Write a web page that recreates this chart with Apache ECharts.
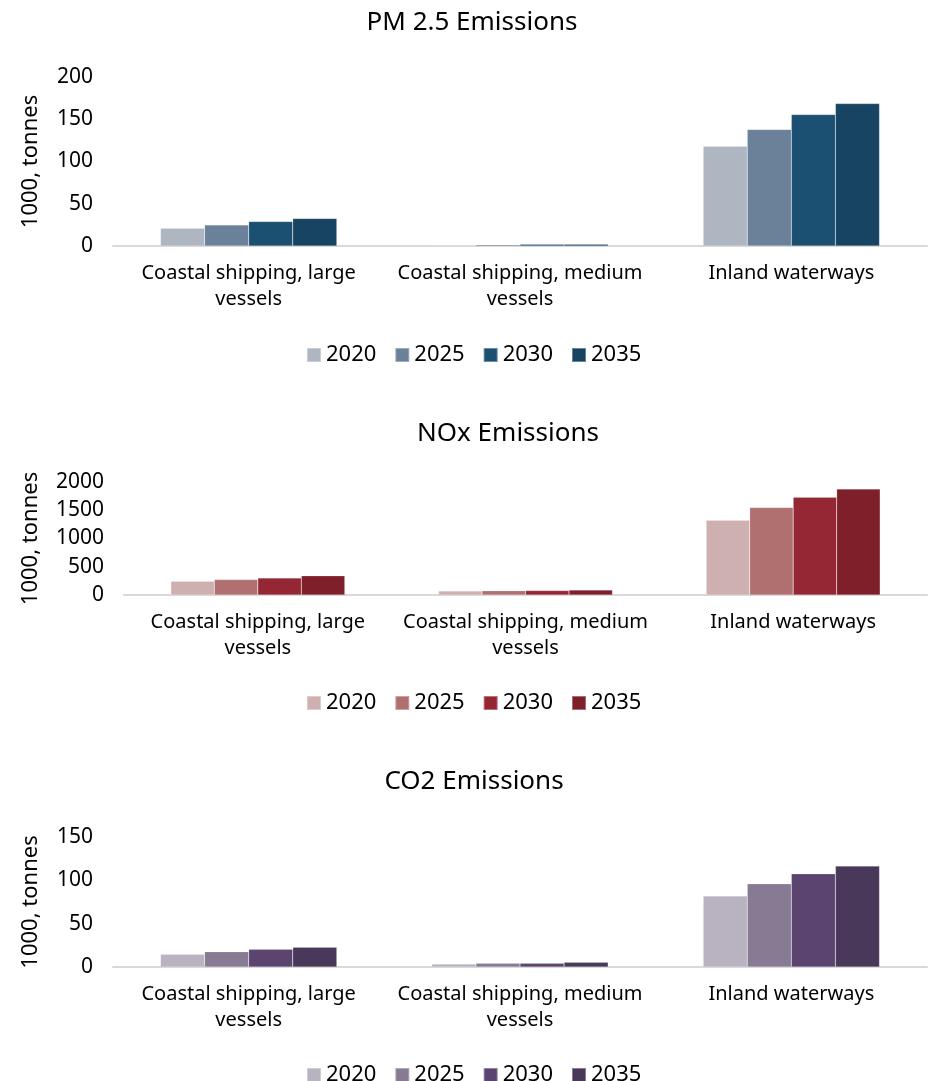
<!DOCTYPE html>
<html><head><meta charset="utf-8">
<script src="https://cdn.jsdelivr.net/npm/echarts@6/dist/echarts.min.js"></script>
<style>html,body{margin:0;padding:0;background:#fff}#c{width:928px;height:1081px}</style>
</head><body><div id="c"></div>
<script>
const categories = ['Coastal shipping, large vessels', 'Coastal shipping, medium vessels', 'Inland waterways'];
const years = ['2020', '2025', '2030', '2035'];
const titles = ['PM 2.5 Emissions', 'NOx Emissions', 'CO2 Emissions'];
const yAxisName = '1000, tonnes';
// values per year: [large, medium, inland]
const pm25 = {
  '2020': [21, 1, 118],
  '2025': [25, 1.5, 138],
  '2030': [29, 2, 155.5],
  '2035': [32.5, 2, 168.5]
};
const nox = {
  '2020': [245, 71, 1321],
  '2025': [273, 77, 1548],
  '2030': [303, 78, 1732],
  '2035': [339, 89, 1875]
};
const co2 = {
  '2020': [14.6, 3.5, 82],
  '2025': [17.7, 4.2, 96],
  '2030': [20.4, 4.2, 107.5],
  '2035': [22.7, 5.4, 116.5]
};
const pmColors = ['#aeb6c2', '#6b8199', '#1c5073', '#174462'];
const noxColors = ['#cfb0b1', '#b07070', '#952633', '#7e1f2a'];
const co2Colors = ['#b9b3c1', '#877a93', '#5b4470', '#4a385b'];
const yMax = [200, 2000, 150];
const yInterval = [50, 500, 50];

const FONT = 'Noto Sans';
const panels = [
  {data: pm25, colors: pmColors, titleTop: 5, titleX: 467, gridTop: 77, gridH: 169, left: 113, legendTop: 339},
  {data: nox, colors: noxColors, titleTop: 416, titleX: 503, gridTop: 482, gridH: 113, left: 124, legendTop: 687},
  {data: co2, colors: co2Colors, titleTop: 764, titleX: 469, gridTop: 837, gridH: 130, left: 113, legendTop: 1059}
];

const option = {
  animation: false,
  textStyle: {fontFamily: FONT, color: '#000'},
  title: [], legend: [], grid: [], xAxis: [], yAxis: [], series: []
};
panels.forEach((p, i) => {
  option.title.push({text: titles[i], left: p.titleX, textAlign: 'center', top: p.titleTop,
    textStyle: {fontFamily: FONT, fontSize: 26, fontWeight: 'normal', color: '#000'}});
  option.grid.push({left: p.left, right: 1, top: p.gridTop, height: p.gridH});
  option.xAxis.push({type: 'category', gridIndex: i, data: categories,
    axisLine: {lineStyle: {color: '#d9d9d9', width: 2}}, axisTick: {show: false},
    axisLabel: {fontFamily: FONT, fontSize: 20, color: '#000', lineHeight: 26, margin: 14, interval: 0,
      formatter: v => v.replace(/ (vessels)$/, '\n$1')}});
  option.yAxis.push({type: 'value', gridIndex: i, min: 0, max: yMax[i], interval: yInterval[i],
    name: yAxisName, nameLocation: 'middle', nameRotate: 90,
    nameGap: p.left - 42,
    nameTextStyle: {fontFamily: FONT, fontSize: 22, color: '#000'},
    splitLine: {show: false}, axisLine: {show: false}, axisTick: {show: false},
    axisLabel: {fontFamily: FONT, fontSize: 21, color: '#000', margin: 20, formatter: v => String(v)}});
  option.legend.push({top: p.legendTop, left: 301, itemWidth: 14, itemHeight: 14, itemGap: 18,
    icon: 'rect', textStyle: {fontFamily: FONT, fontSize: 22, color: '#000'},
    data: years.map((y, k) => ({name: y + '\u200b'.repeat(i), itemStyle: {color: p.colors[k]}}))});
  years.forEach((y, k) => {
    option.series.push({type: 'bar', name: y + '\u200b'.repeat(i), xAxisIndex: i, yAxisIndex: i,
      data: p.data[y], barGap: '0%', barCategoryGap: '35%',
      itemStyle: {color: p.colors[k], borderColor: 'rgba(255,255,255,0.35)', borderWidth: 0.5}});
  });
});
echarts.init(document.getElementById('c')).setOption(option);
</script></body></html>
